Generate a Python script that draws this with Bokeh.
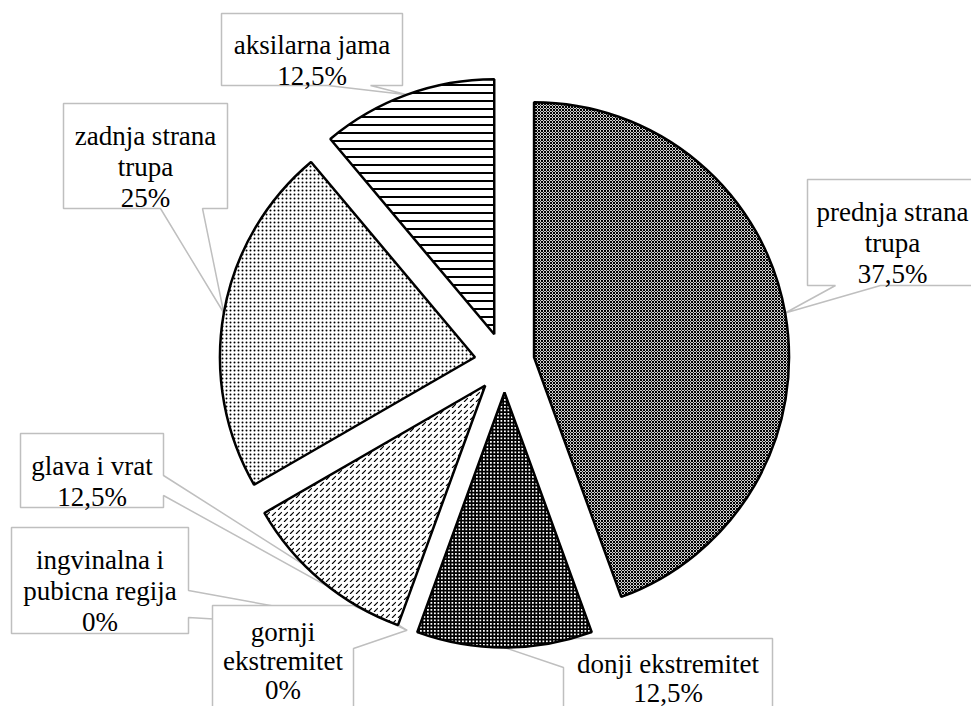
import math
from bokeh.plotting import figure
from bokeh.models import Range1d
from bokeh.core.properties import value
from bokeh.embed import file_html
from bokeh.resources import INLINE

W, H = 971, 706

# ---- data (clockwise from 12 o'clock) ----
categories = ["prednja strana trupa", "donji ekstremitet", "gornji ekstremitet",
              "ingvinalna i pubicna regija", "glava i vrat", "zadnja strana trupa",
              "aksilarna jama"]
slice_values = [4, 1, 0, 0, 1, 2, 1]          # slice sizes as drawn in the picture
pct_labels = ["37,5%", "12,5%", "0%", "0%", "12,5%", "25%", "12,5%"]
name_lines = [["prednja strana", "trupa"], ["donji ekstremitet"], ["gornji", "ekstremitet"],
              ["ingvinalna i", "pubicna regija"], ["glava i vrat"], ["zadnja strana", "trupa"],
              ["aksilarna jama"]]

# ---- styles / layout (screen pixels) ----
CX, CY, R, EXPLODE = 504, 362, 255, 30
styles = [
    dict(fill_color="#cfcfcf", hatch_pattern="x", hatch_scale=3, hatch_weight=1),
    dict(fill_color="white", hatch_pattern="+", hatch_scale=3.5, hatch_weight=2),
    None, None,
    dict(fill_color="white", hatch_pattern=",", hatch_scale=6, hatch_weight=1.2),
    dict(fill_color="white", hatch_pattern=".", hatch_scale=4, hatch_weight=1.3),
    dict(fill_color="white", hatch_pattern="-", hatch_scale=8, hatch_weight=2),
]
# left, top, right, bottom, pointer edge, pointer base a, b, tip mode,
# first-baseline offset, line spacing
boxes = [
    (807, 179, 977, 285, "bottom", 835, 880, "mid", 32, 31),
    (563, 638, 772, 712, "left", 638, 667, "mid", 25, 29),
    (212, 605, 353, 711, "right", 605, 648, "mid", 26, 29),
    (11, 527, 188, 633, "right", 590, 617, "mid", 32, 31),
    (20, 433, 163, 507, "right", 475, 495, "start", 32, 31),
    (63, 103, 227, 208, "bottom", 160, 202, "mid", 32, 31),
    (221, 13, 402, 85, "bottom", 327, 370, "mid", 31, 31),
]
draw_order = [5, 6, 0, 4, 3, 2, 1]
FONT = "Liberation Serif"
FS = 27

total = sum(slice_values)
starts, ends = [], []
acc = 0
for v in slice_values:
    starts.append(360.0 * acc / total)
    acc += v
    ends.append(360.0 * acc / total)


def dy(sy):
    return H - sy


def pt(theta_deg, r, ox=CX, oy=CY):
    t = math.radians(theta_deg)
    return ox + r * math.sin(t), oy - r * math.cos(t)


p = figure(width=W, height=H, output_backend="svg", toolbar_location=None,
           x_range=Range1d(0, W), y_range=Range1d(0, H), min_border=0)
p.axis.visible = False
p.grid.visible = False
p.outline_line_color = None
p.background_fill_color = "white"
p.border_fill_color = "white"

# ---- callout boxes ----
xs_list, ys_list = [], []
for i in draw_order:
    L, T, Rr, B, edge, a, b, mode = boxes[i][:8]
    if mode == "mid":
        ang = (starts[i] + ends[i]) / 2
    else:
        ang = starts[i]
    tx, ty = pt(ang, R + EXPLODE)
    if edge == "bottom":
        pts = [(L, T), (Rr, T), (Rr, B), (b, B), (tx, ty), (a, B), (L, B)]
    elif edge == "left":
        pts = [(L, T), (Rr, T), (Rr, B), (L, B), (L, b), (tx, ty), (L, a)]
    else:
        pts = [(L, T), (Rr, T), (Rr, a), (tx, ty), (Rr, b), (Rr, B), (L, B)]
    xs_list.append([q[0] for q in pts])
    ys_list.append([dy(q[1]) for q in pts])
p.patches(xs_list, ys_list, fill_color="white", line_color="#BFBFBF", line_width=1.5)

# ---- exploded pie slices ----
for i, v in enumerate(slice_values):
    if v == 0:
        continue
    bis = (starts[i] + ends[i]) / 2
    ox, oy = pt(bis, EXPLODE)
    p.wedge(x=[ox], y=[dy(oy)], radius=R,
            start_angle=math.radians(90 - ends[i]), end_angle=math.radians(90 - starts[i]),
            direction="anticlock", line_color="black", line_width=2.5,
            hatch_color="black", **styles[i])

# ---- label texts ----
tx_, ty_, tt_ = [], [], []
for i in range(len(categories)):
    L, T, Rr, B = boxes[i][:4]
    off, ls = boxes[i][8], boxes[i][9]
    cx = (L + Rr) / 2
    lines = name_lines[i] + [pct_labels[i]]
    for k, s in enumerate(lines):
        tx_.append(cx)
        ty_.append(dy(T + off + k * ls))
        tt_.append(s)
p.text(x=tx_, y=ty_, text=tt_, text_font=value(FONT), text_font_size=f"{FS}px",
       text_align="center", text_baseline="alphabetic", text_color="black")

open("out.html", "w").write(file_html(p, INLINE))
